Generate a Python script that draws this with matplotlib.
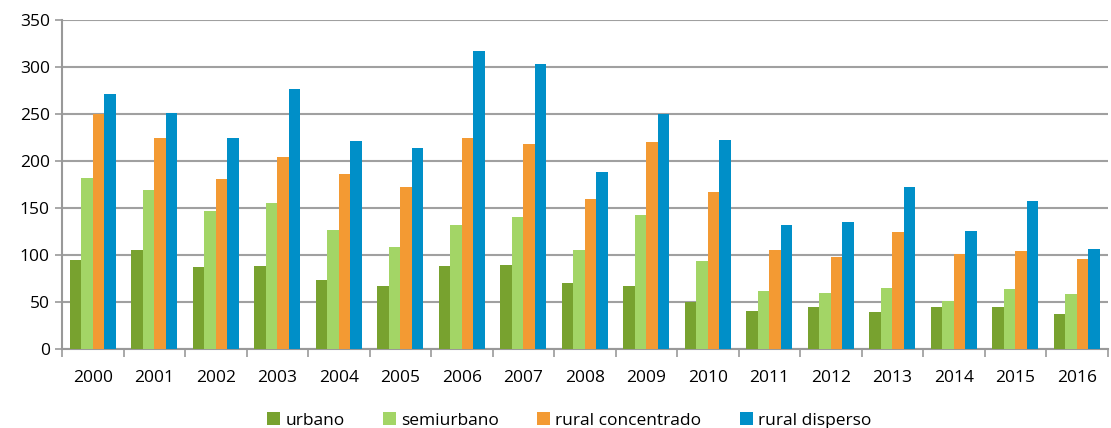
import matplotlib.pyplot as plt
import numpy as np

plt.rcParams['font.family'] = ['Open Sans', 'DejaVu Sans']

years = [str(y) for y in range(2000, 2017)]
urbano = [95, 105, 87, 88, 73, 67, 88, 89, 70, 67, 50, 40, 45, 39, 44, 45, 37]
semiurbano = [182, 169, 147, 155, 126, 108, 132, 140, 105, 143, 93, 62, 59, 65, 51, 64, 58]
rural_concentrado = [250, 224, 181, 204, 186, 172, 225, 218, 160, 220, 167, 105, 98, 124, 101, 104, 96]
rural_disperso = [271, 251, 224, 277, 221, 214, 317, 303, 188, 250, 222, 132, 135, 172, 125, 157, 106]

series = [
    ('urbano', urbano, '#78A22F'),
    ('semiurbano', semiurbano, '#A3D566'),
    ('rural concentrado', rural_concentrado, '#F39A33'),
    ('rural disperso', rural_disperso, '#008FC8'),
]

fig = plt.figure(figsize=(11.11, 4.28), dpi=100)
ax = fig.add_axes([0.056, 0.185, 0.941, 0.768])

x = np.arange(len(years))
w = 0.187
for i, (name, vals, col) in enumerate(series):
    ax.bar(x + (i - 1.5) * w, vals, w, color=col, label=name, zorder=3)

ax.set_ylim(0, 350)
ax.set_yticks(range(0, 351, 50))
ax.set_xlim(-0.5, len(years) - 0.5)
ax.set_xticks(x)
ax.set_xticklabels(years)
ax.set_xticks(np.arange(-0.5, len(years), 1), minor=True)
ax.tick_params(axis='x', which='major', length=0, pad=15, labelsize=12.5)
ax.tick_params(axis='x', which='minor', length=6, color='#999999', width=1.2)
ax.tick_params(axis='y', length=5, color='#999999', width=1.2, labelsize=12.5, pad=4)
ax.grid(axis='y', color='#A0A0A0', linewidth=1.5, zorder=0)

for s in ['top', 'right']:
    ax.spines[s].set_visible(False)
for s in ['left', 'bottom']:
    ax.spines[s].set_color('#999999')
    ax.spines[s].set_linewidth(1.5)

ax.legend(loc='upper center', bbox_to_anchor=(0.485, -0.145), ncol=4, frameon=False,
          fontsize=12.5, handlelength=0.75, handleheight=0.75, handletextpad=0.3,
          columnspacing=2.2)

fig.savefig('out.png', dpi=100)
